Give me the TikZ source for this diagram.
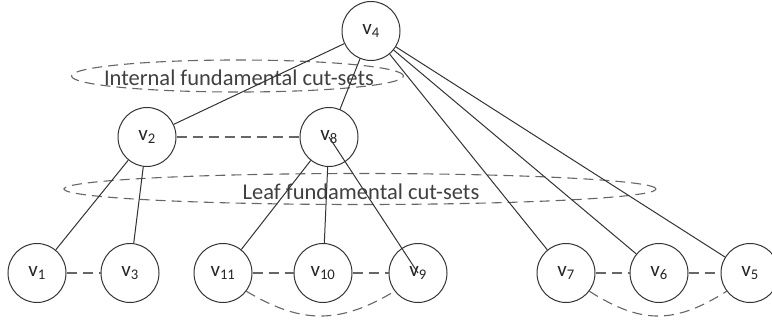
\documentclass[tikz,border=0pt]{standalone}
\usepackage{fontspec}
\setmainfont{Carlito}
\usetikzlibrary{shapes.geometric}
\begin{document}
\begin{tikzpicture}[x=1pt,y=-1pt,
  vnode/.style={draw=black!80, line width=1pt, ellipse, minimum width=58pt, minimum height=59pt, inner sep=0pt, text=black!85, font=\fontsize{21}{25}\selectfont},
  edge/.style={draw=black!80, line width=1pt},
  dedge/.style={draw=black!60, line width=1.1pt, dash pattern=on 10pt off 6pt},
  cutset/.style={dedge, ellipse, inner sep=0pt},
  lbl/.style={font=\fontsize{22.5}{27}\selectfont, text=black!75, inner sep=0pt}]
\useasboundingbox (0,0) rectangle (772,326);
% cut-set ellipses
\node[cutset, minimum width=332pt, minimum height=32pt] (ic) at (237.5,76) {};
\node[cutset, minimum width=592pt, minimum height=31pt] (lc) at (360,189) {};
\node[lbl] (ict) at (239,78) {Internal fundamental cut-sets};
\node[lbl] (lct) at (361,192) {Leaf fundamental cut-sets};
% vertices
\node[vnode] (v4) at (371,31) {v\textsubscript{4}};
\node[vnode] (v2) at (147,137) {v\textsubscript{2}};
\node[vnode] (v8) at (329,137) {v\textsubscript{8}};
\node[vnode] (v1) at (37,273) {v\textsubscript{1}};
\node[vnode] (v3) at (130,273) {v\textsubscript{3}};
\node[vnode] (v11) at (223,273) {v\textsubscript{11}};
\node[vnode] (v10) at (323,273) {v\textsubscript{10}};
\node[vnode] (v9) at (418,273) {v\textsubscript{9}};
\node[vnode] (v7) at (566,273) {v\textsubscript{7}};
\node[vnode] (v6) at (659,273) {v\textsubscript{6}};
\node[vnode] (v5) at (750,273) {v\textsubscript{5}};
% tree edges
\draw[edge] (v4) -- (v2);
\draw[edge] (v4) -- (v8);
\draw[edge] (v4) -- (v7);
\draw[edge] (v4) -- (v6);
\draw[edge] (v4) -- (v5);
\draw[edge] (v2) -- (v1);
\draw[edge] (v2) -- (v3);
\draw[edge] (v8) -- (v11);
\draw[edge] (v8) -- (v10);
\draw[edge] (v8.center) -- (v9.center);
% dashed links
\draw[dedge] (v2) -- (v8);
\draw[dedge] (v1) -- (v3);
\draw[dedge] (v11) -- (v10);
\draw[dedge] (v10) -- (v9);
\draw[dedge] (v7) -- (v6);
\draw[dedge] (v6) -- (v5);
\draw[dedge] (v11.-38) .. controls +(55,33) and +(-55,33) .. (v9.-142);
\draw[dedge] (v7.-38) .. controls +(52,33) and +(-52,33) .. (v5.-142);
\end{tikzpicture}
\end{document}
